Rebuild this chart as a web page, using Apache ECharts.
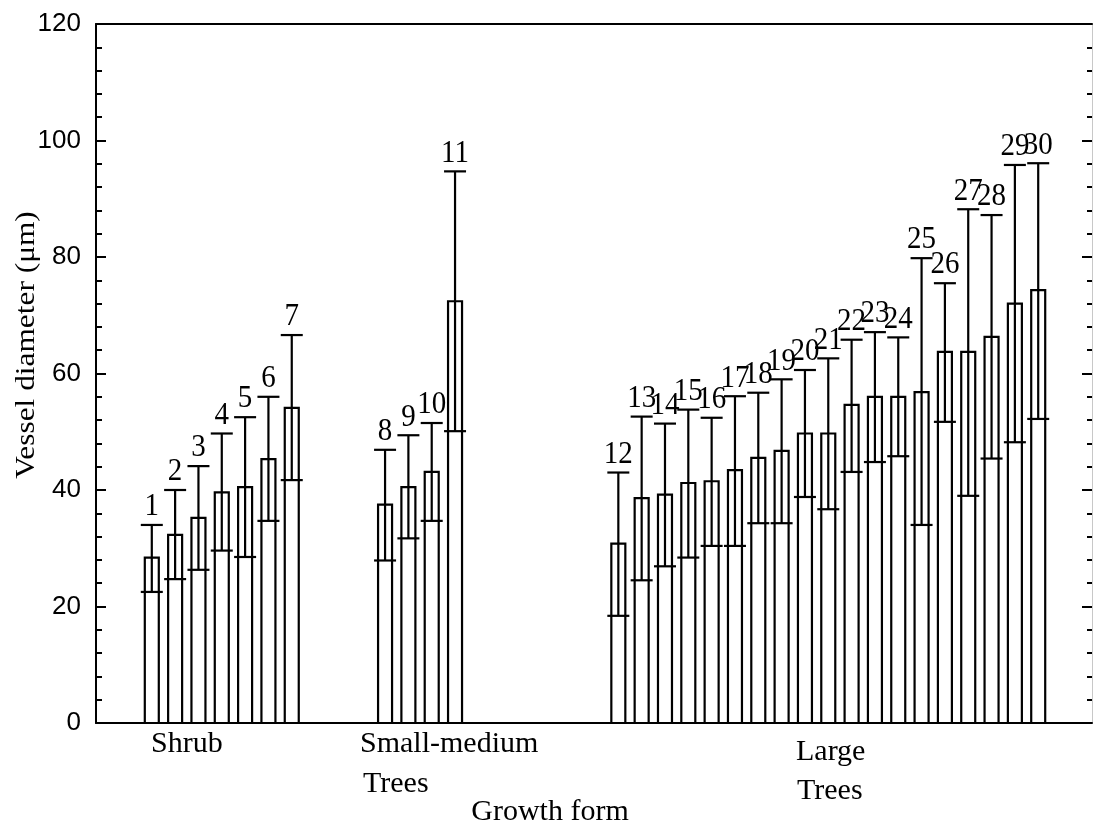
<!DOCTYPE html>
<html>
<head>
<meta charset="utf-8">
<script src="https://cdn.jsdelivr.net/npm/echarts@6/dist/echarts.min.js"></script>
<style>html,body{margin:0;padding:0;background:#fff}#c{width:1094px;height:830px}</style>
</head>
<body>
<div id="c"></div>
<script>
// ---- data ----
const speciesIds = [1,2,3,4,5,6,7,8,9,10,11,12,13,14,15,16,17,18,19,20,21,22,23,24,25,26,27,28,29,30];
// x slot of each bar (groups separated by empty slots)
const slots = [1,2,3,4,5,6,7, 11,12,13,14, 21,22,23,24,25,26,27,28,29,30,31,32,33,34,35,36,37,38,39];
const meanVals  = [28.4,32.3,35.2,39.6,40.5,45.3,54.1, 37.5,40.5,43.1,72.4,
                   30.8,38.6,39.2,41.2,41.5,43.4,45.5,46.7,49.7,49.7,54.6,56.0,56.0,56.8,63.7,63.7,66.3,72.0,74.3];
const upperVals = [34.0,40.0,44.1,49.7,52.5,56.0,66.6, 46.9,49.4,51.5,94.7,
                   43.0,52.6,51.4,53.8,52.4,56.1,56.7,59.0,60.6,62.6,65.8,67.1,66.2,79.8,75.5,88.2,87.2,95.8,96.1];
const lowerVals = [22.5,24.7,26.3,29.6,28.5,34.7,41.7, 27.9,31.7,34.7,50.1,
                   18.4,24.5,26.9,28.4,30.4,30.4,34.3,34.3,38.8,36.7,43.1,44.8,45.8,34.0,51.7,39.0,45.4,48.2,52.2];
const yTicks = [0,20,40,60,80,100,120];
const groupLabels = ['Shrub', 'Small-medium\nTrees', 'Large\nTrees'];
const xTitle = 'Growth form';
const yTitle = 'Vessel diameter (μm)';

const rows = speciesIds.map((id, i) => [slots[i], meanVals[i], lowerVals[i], upperVals[i], id]);

const chart = echarts.init(document.getElementById('c'), null, {renderer: 'canvas'});
const serif = '"Liberation Serif", "Times New Roman", serif';
const sans = '"Liberation Sans", Arial, sans-serif';

const option = {
  animation: false,
  backgroundColor: '#fff',
  grid: {left: 96, right: 2, top: 24, bottom: 107, containLabel: false},
  xAxis: [{
    type: 'value', min: -1.392, max: 41.306, position: 'bottom',
    axisLine: {show: true, onZero: false, lineStyle: {color: '#000', width: 2}},
    axisTick: {show: false}, axisLabel: {show: false}, splitLine: {show: false}
  }, {
    type: 'value', min: -1.392, max: 41.306, position: 'top',
    axisLine: {show: true, onZero: false, lineStyle: {color: '#000', width: 2}},
    axisTick: {show: false}, axisLabel: {show: false}, splitLine: {show: false}
  }],
  yAxis: [{
    type: 'value', min: 0, max: 120, interval: 20, position: 'left',
    axisLine: {show: true, onZero: false, lineStyle: {color: '#000', width: 2}},
    axisTick: {show: true, inside: true, length: 10, lineStyle: {color: '#000', width: 2}},
    minorTick: {show: true, splitNumber: 5, length: 6, lineStyle: {color: '#000', width: 2}},
    axisLabel: {show: true, margin: 15, color: '#000', fontFamily: sans, fontSize: 26,
      formatter: v => yTicks.indexOf(v) >= 0 ? String(v) : ''},
    splitLine: {show: false}
  }, {
    type: 'value', min: 0, max: 120, interval: 20, position: 'right',
    axisLine: {show: true, onZero: false, lineStyle: {color: '#c8c8c8', width: 1}},
    axisTick: {show: true, inside: true, length: 10, lineStyle: {color: '#000', width: 2}},
    minorTick: {show: true, splitNumber: 5, length: 5, lineStyle: {color: '#000', width: 2}},
    axisLabel: {show: false}, splitLine: {show: false}
  }],
  series: [{
    type: 'custom',
    xAxisIndex: 0, yAxisIndex: 0,
    data: rows,
    clip: false,
    renderItem: function (params, api) {
      const x = api.value(0);
      const p0 = api.coord([x, 0]);
      const pm = api.coord([x, api.value(1)]);
      const pl = api.coord([x, api.value(2)]);
      const ph = api.coord([x, api.value(3)]);
      const w = api.size([0.6, 0])[0];
      const cap = 11;
      const ls = {stroke: '#000', lineWidth: 2.2, fill: null};
      return {
        type: 'group',
        children: [
          {type: 'rect', shape: {x: p0[0] - w / 2, y: pm[1], width: w, height: p0[1] - pm[1]},
            style: {fill: '#fff', stroke: '#000', lineWidth: 2.2}},
          {type: 'line', shape: {x1: ph[0], y1: pl[1], x2: ph[0], y2: ph[1]}, style: ls},
          {type: 'line', shape: {x1: ph[0] - cap, y1: ph[1], x2: ph[0] + cap, y2: ph[1]}, style: ls},
          {type: 'line', shape: {x1: pl[0] - cap, y1: pl[1], x2: pl[0] + cap, y2: pl[1]}, style: ls},
          {type: 'text', x: ph[0], y: ph[1] - 2, scaleY: 1.12,
            style: {text: String(api.value(4)), fill: '#000', font: '29px ' + serif,
              align: 'center', verticalAlign: 'bottom'}}
        ]
      };
    }
  }],
  graphic: [
    {type: 'text', left: 151, top: 729, style: {text: groupLabels[0].split('\n')[0], font: '30px ' + serif, fill: '#000'}},
    {type: 'text', left: 360, top: 729, style: {text: groupLabels[1].split('\n')[0], font: '30px ' + serif, fill: '#000'}},
    {type: 'text', left: 363, top: 769, style: {text: groupLabels[1].split('\n')[1], font: '30px ' + serif, fill: '#000'}},
    {type: 'text', left: 796, top: 737, style: {text: groupLabels[2].split('\n')[0], font: '30px ' + serif, fill: '#000'}},
    {type: 'text', left: 797, top: 776, style: {text: groupLabels[2].split('\n')[1], font: '30px ' + serif, fill: '#000'}},
    {type: 'text', x: 550, y: 812, style: {text: xTitle, font: '30px ' + serif, fill: '#000', align: 'center', verticalAlign: 'middle'}},
    {type: 'text', x: 27, y: 345, rotation: Math.PI / 2, scaleX: 1.12,
      style: {text: yTitle, font: '28px ' + serif, fill: '#000', align: 'center', verticalAlign: 'middle'}}
  ]
};
chart.setOption(option);
</script>
</body>
</html>
